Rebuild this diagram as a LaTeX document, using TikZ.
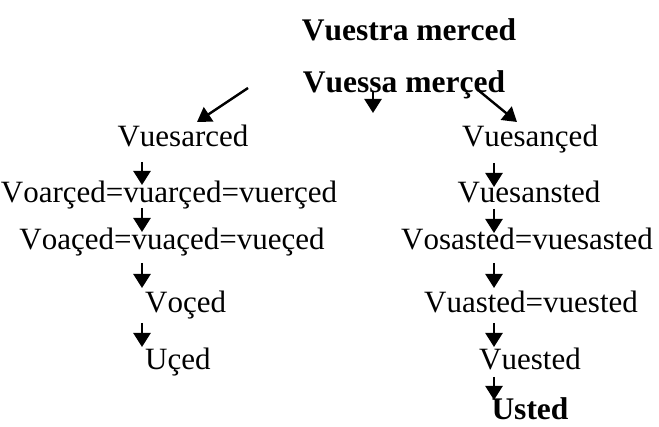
\documentclass[tikz,border=0pt]{standalone}
\usepackage{fontspec}
\setmainfont{Liberation Serif}[Kerning=Off]
\usetikzlibrary{arrows.meta,calc}
\begin{document}
\begin{tikzpicture}[x=1pt,y=-1pt,
  word/.style={anchor=base, inner sep=0pt, font=\fontsize{31}{36}\selectfont},
  bword/.style={word, font=\fontsize{31.5}{36}\selectfont\bfseries},
  arr/.style={line width=2.4pt, -{Triangle[length=14pt,width=17pt]}}]
\useasboundingbox (0,0) rectangle (659,427);

% headings
\node[bword] (vtra) at (409,41) {Vuestra merced};
\node[bword] (vssa) at (404,93) {Vuessa merçed};

% left branch
\node[word] (l1) at (183,147) {Vuesarced};
\node[word] (l2) at (169,203) {Voarçed=vuarçed=vuerçed};
\node[word] (l3) at (172,250) {Voaçed=vuaçed=vueçed};
\node[word,anchor=base west] (l4) at (145,313) {Voçed};
\node[word,anchor=base west] (l5) at (145,370) {Uçed};

% right branch
\node[word] (r1) at (530,147) {Vuesançed};
\node[word] (r2) at (529,203) {Vuesansted};
\node[word] (r3) at (527,250) {Vosasted=vuesasted};
\node[word] (r4) at (531,313) {Vuasted=vuested};
\node[word] (r5) at (530,370) {Vuested};
\node[bword] (r6) at (530,420) {Usted};

% arrow columns
\coordinate (xl) at (142,0);
\coordinate (xr) at (494,0);

% arrows out of the second heading
\draw[arr] ($(vssa.base)+(-156,-5)$) -- ($(l1.base)+(14,-25)$);
\coordinate (mid) at ($(vssa.base)+(-31,20)$);
\draw[arr] ($(vssa.base)+(-31,-1)$) -- (mid);
\draw[arr] ($(vssa.base)+(74,-3)$) -- ($(r1.base)+(-13,-25)$);

% left chain
\draw[arr] ($(l1.base -| xl)+(0,15)$) -- ($(l2.base -| xl)+(0,-18)$);
\draw[arr] ($(l2.base -| xl)+(0,5)$) -- ($(l3.base -| xl)+(0,-18)$);
\draw[arr] ($(l3.base -| xl)+(0,13)$) -- ($(l4.base -| xl)+(0,-25)$);
\draw[arr] ($(l4.base -| xl)+(0,10)$) -- ($(l5.base -| xl)+(0,-23)$);

% right chain
\draw[arr] ($(r1.base -| xr)+(0,16)$) -- ($(r2.base -| xr)+(0,-16)$);
\draw[arr] ($(r2.base -| xr)+(0,6)$) -- ($(r3.base -| xr)+(0,-17)$);
\draw[arr] ($(r3.base -| xr)+(0,13)$) -- ($(r4.base -| xr)+(0,-25)$);
\draw[arr] ($(r4.base -| xr)+(0,10)$) -- ($(r5.base -| xr)+(0,-23)$);
\draw[arr] ($(r5.base -| xr)+(0,7)$) -- ($(r6.base -| xr)+(0,-20)$);
\end{tikzpicture}
\end{document}
